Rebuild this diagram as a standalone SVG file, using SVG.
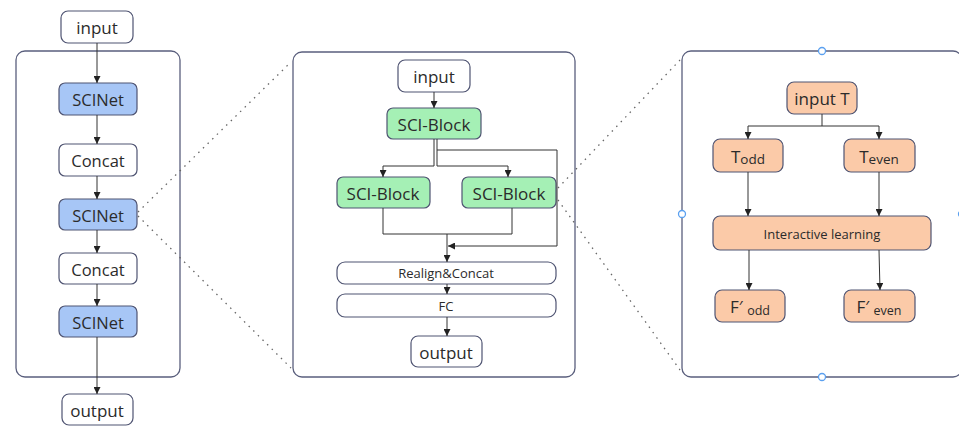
<svg xmlns="http://www.w3.org/2000/svg" width="959" height="426" viewBox="0 0 959 426">
<defs>
<marker id="arr" viewBox="0 0 10 10" refX="10" refY="5" markerWidth="7" markerHeight="7" markerUnits="userSpaceOnUse" orient="auto">
<path d="M0,0 L10,5 L0,10 z" fill="#222"/>
</marker>
<style>
.frame{fill:#fff;stroke:#5a5f7d;stroke-width:1.3}
.box{stroke:#4f5472;stroke-width:1.2}
.w{fill:#fff}
.b{fill:#a7c6f6}
.g{fill:#a5f0b5}
.p{fill:#fbcaa8}
.t{font-family:"Open Sans","Noto Sans","DejaVu Sans",sans-serif;fill:#2b2b2b;text-anchor:middle;dominant-baseline:central}
.L{font-size:17px}
.M{font-size:16.5px}
.S{font-size:13px}
.c{fill:none;stroke:#333;stroke-width:1}
.ca{fill:none;stroke:#333;stroke-width:1;marker-end:url(#arr)}
.dot{fill:none;stroke:#666;stroke-width:1.3;stroke-dasharray:1.5 5}
.h{fill:#fff;stroke:#5aa0f0;stroke-width:1.3}
</style>
</defs>
<rect width="959" height="426" fill="#fff"/>

<!-- frames -->
<g id="frame-left"><rect class="frame" x="16" y="51" width="164" height="326" rx="9"/></g>
<g id="frame-mid"><rect class="frame" x="293" y="52" width="282" height="325" rx="9"/></g>
<g id="frame-right"><rect class="frame" x="682" y="51" width="280" height="326" rx="9"/></g>

<!-- left panel nodes -->
<g id="l-input"><rect class="box w" x="61" y="11" width="72" height="32" rx="7"/><text class="t L" x="97" y="27">input</text></g>
<g id="l-scinet1"><rect class="box b" x="59" y="83" width="78" height="32" rx="6"/><text class="t M" x="98" y="99">SCINet</text></g>
<g id="l-concat1"><rect class="box w" x="59" y="144" width="78" height="32" rx="6"/><text class="t M" x="98" y="160">Concat</text></g>
<g id="l-scinet2"><rect class="box b" x="59" y="199" width="78" height="31" rx="6"/><text class="t M" x="98" y="215">SCINet</text></g>
<g id="l-concat2"><rect class="box w" x="59" y="253" width="78" height="31" rx="6"/><text class="t M" x="98" y="269">Concat</text></g>
<g id="l-scinet3"><rect class="box b" x="59" y="306" width="78" height="31" rx="6"/><text class="t M" x="98" y="322">SCINet</text></g>
<g id="l-output"><rect class="box w" x="62" y="394" width="71" height="31" rx="7"/><text class="t L" x="97" y="410">output</text></g>

<!-- middle panel nodes -->
<g id="m-input"><rect class="box w" x="398" y="60" width="72" height="32" rx="7"/><text class="t L" x="434" y="76">input</text></g>
<g id="m-block-top"><rect class="box g" x="387" y="108" width="94" height="31" rx="6"/><text class="t L" x="434" y="124">SCI-Block</text></g>
<g id="m-block-left"><rect class="box g" x="337" y="177" width="93" height="31" rx="6"/><text class="t L" x="383" y="193">SCI-Block</text></g>
<g id="m-block-right"><rect class="box g" x="462" y="177" width="94" height="31" rx="6"/><text class="t L" x="509" y="193">SCI-Block</text></g>
<g id="m-realign"><rect class="box w" x="337" y="262" width="219" height="22" rx="8"/><text class="t S" x="446" y="273">Realign&amp;Concat</text></g>
<g id="m-fc"><rect class="box w" x="337" y="294" width="219" height="23" rx="8"/><text class="t S" x="446" y="306">FC</text></g>
<g id="m-output"><rect class="box w" x="411" y="336" width="71" height="31" rx="7"/><text class="t L" x="446" y="352">output</text></g>

<!-- right panel nodes -->
<g id="r-input"><rect class="box p" x="787" y="82" width="70" height="32" rx="7"/><text class="t L" x="822" y="98">input T</text></g>
<g id="r-todd"><rect class="box p" x="713" y="139" width="70" height="33" rx="7"/><text class="t L" x="748" y="156">T<tspan font-size="13.5" dy="3">odd</tspan></text></g>
<g id="r-teven"><rect class="box p" x="844" y="139" width="71" height="33" rx="7"/><text class="t L" x="879" y="156">T<tspan font-size="13.5" dy="3">even</tspan></text></g>
<g id="r-inter"><rect class="box p" x="713" y="216" width="218" height="34" rx="7"/><text class="t S" x="822" y="234">Interactive learning</text></g>
<g id="r-fodd"><rect class="box p" x="715" y="290" width="70" height="32" rx="7"/><text class="t L" x="750" y="306">F′ <tspan font-size="12.5" dy="4">odd</tspan></text></g>
<g id="r-feven"><rect class="box p" x="844" y="290" width="71" height="32" rx="7"/><text class="t L" x="879" y="306">F′ <tspan font-size="12.5" dy="4">even</tspan></text></g>

<!-- selection handles -->
<g id="handles">
<circle class="h" cx="822" cy="51" r="3.5"/>
<circle class="h" cx="682" cy="214" r="3.5"/>
<circle class="h" cx="822" cy="377" r="3.5"/>
<circle class="h" cx="962" cy="214" r="3.5"/>
</g>

<g id="connectors">
<!-- left -->
<line class="ca" x1="97" y1="43" x2="97" y2="83"/>
<line class="ca" x1="97" y1="115" x2="97" y2="144"/>
<line class="ca" x1="97" y1="176" x2="97" y2="199"/>
<line class="ca" x1="97" y1="230" x2="97" y2="253"/>
<line class="ca" x1="97" y1="284" x2="97" y2="306"/>
<line class="ca" x1="97" y1="337" x2="97" y2="394"/>
<!-- middle -->
<line class="ca" x1="434" y1="92" x2="434" y2="108"/>
<polyline class="ca" points="434,139 434,166 383,166 383,177"/>
<polyline class="ca" points="437,139 437,166 508,166 508,177"/>
<polyline class="ca" points="437,150 557,150 557,246 448,246"/>
<polyline class="c" points="383,208 383,234 512,234 512,208"/>
<line class="ca" x1="447" y1="234" x2="447" y2="262"/>
<line class="ca" x1="447" y1="284" x2="447" y2="294"/>
<line class="ca" x1="447" y1="317" x2="447" y2="336"/>
<!-- right -->
<polyline class="c" points="822,114 822,126"/>
<polyline class="ca" points="822,126 748,126 748,139"/>
<polyline class="ca" points="822,126 879,126 879,139"/>
<line class="ca" x1="748" y1="172" x2="748" y2="216"/>
<line class="ca" x1="879" y1="172" x2="879" y2="216"/>
<line class="ca" x1="749" y1="250" x2="749" y2="290"/>
<line class="ca" x1="879" y1="250" x2="880" y2="290"/>
<!-- zoom dotted lines -->
<line class="dot" x1="138" y1="212" x2="291" y2="62"/>
<line class="dot" x1="138" y1="216" x2="291" y2="368"/>
<line class="dot" x1="558" y1="188" x2="680" y2="60"/>
<line class="dot" x1="558" y1="200" x2="680" y2="370"/>
</g>
</svg>
